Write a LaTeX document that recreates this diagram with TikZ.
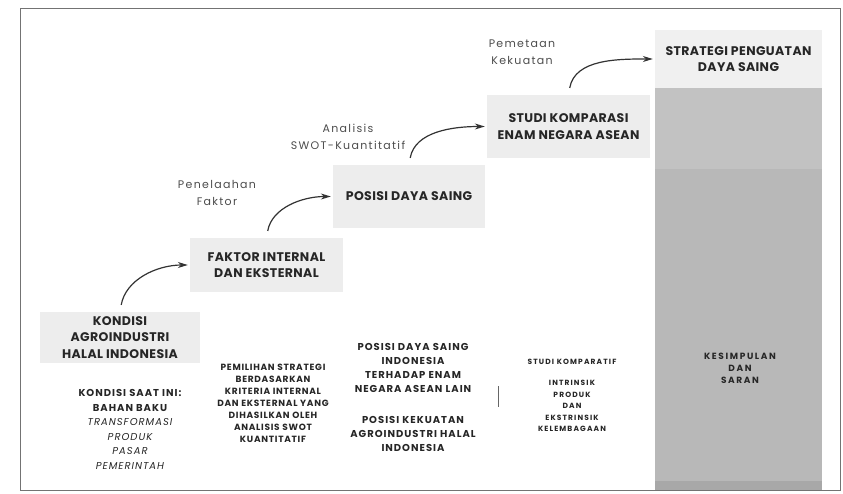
\documentclass[tikz,border=0pt]{standalone}
\usepackage{fontspec}
\setmainfont{Poppins}
\usetikzlibrary{arrows.meta,positioning}

\begin{document}
\begin{tikzpicture}[x=1pt, y=-1pt, box/.style = {fill=black!7, text=black!85, font=\bfseries\fontsize{12.5}{16.5}\selectfont\addfontfeatures{LetterSpace=3}, align=center, inner sep=0pt}, note/.style = {text=black!70, font=\fontsize{11}{17.5}\selectfont\addfontfeatures{LetterSpace=12}, align=center}, sub/.style = {text=black!85, align=center}, flow/.style = {-{Stealth[length=10pt,width=6pt]}, very thick, black!80, shorten <=7pt, shorten >=2pt}]
        \useasboundingbox (0,0) rectangle (843,494);
        \draw[black!55, thick] (20,8) rectangle (840,490);
        \fill[black!28] (655,88) rectangle (822,490);
        \fill[black!24] (655,88) rectangle (822,169);
        \fill[black!34] (655,481) rectangle (822,490);
        \node[box, minimum width=160pt, minimum height=51pt] (1) at (120,337.5) {KONDISI\\AGROINDUSTRI\\HALAL INDONESIA};
        \node[box, minimum width=153pt, minimum height=54pt] (2) at (266.5,265) {FAKTOR INTERNAL\\DAN EKSTERNAL};
        \node[box, minimum width=152pt, minimum height=63pt] (3) at (409,196.5) {POSISI DAYA SAING};
        \node[box, minimum width=163pt, minimum height=63pt] (4) at (568.5,126.5) {STUDI KOMPARASI\\ENAM NEGARA ASEAN};
        \node[box, fill=black!6, minimum width=167pt, minimum height=58pt] (5) at (738.5,59) {STRATEGI PENGUATAN\\DAYA SAING};
        \node[note] (n2) at (217,193) {Penelaahan\\Faktor};
        \node[note] (n3) at (348,137) {Analisis\\SWOT-Kuantitatif};
        \node[note] (n4) at (522,52) {Pemetaan\\Kekuatan};
        \node[sub, font=\bfseries\fontsize{10}{14.5}\selectfont\addfontfeatures{LetterSpace=10}, anchor=north] (d1) at (130,386) {KONDISI SAAT INI:\\BAHAN BAKU\\{\mdseries\itshape TRANSFORMASI}\\{\mdseries\itshape PRODUK}\\{\mdseries\itshape PASAR}\\{\mdseries\itshape PEMERINTAH}};
        \node[sub, font=\bfseries\fontsize{9}{12}\selectfont\addfontfeatures{LetterSpace=8}, anchor=north] (d2) at (273,361) {PEMILIHAN STRATEGI\\BERDASARKAN\\KRITERIA INTERNAL\\DAN EKSTERNAL YANG\\DIHASILKAN OLEH\\ANALISIS SWOT\\KUANTITATIF};
        \node[sub, font=\bfseries\fontsize{10}{14}\selectfont\addfontfeatures{LetterSpace=10}, anchor=north] (d3) at (413,340) {POSISI DAYA SAING\\INDONESIA\\TERHADAP ENAM\\NEGARA ASEAN LAIN};
        \node[sub, font=\bfseries\fontsize{10}{14}\selectfont\addfontfeatures{LetterSpace=10}, below=17pt of d3] (d3b) {POSISI KEKUATAN\\AGROINDUSTRI HALAL\\INDONESIA};
        \node[sub, font=\bfseries\fontsize{7.5}{11.5}\selectfont\addfontfeatures{LetterSpace=15}] (d4) at (572,362) {STUDI KOMPARATIF};
        \node[sub, font=\bfseries\fontsize{7.5}{11.5}\selectfont\addfontfeatures{LetterSpace=15}, anchor=north] (d4b) at (572,377) {INTRINSIK\\PRODUK\\DAN\\EKSTRINSIK\\KELEMBAGAAN};
        \node[sub, font=\bfseries\fontsize{9}{12}\selectfont\addfontfeatures{LetterSpace=18}] (d5) at (740,368) {KESIMPULAN\\DAN\\SARAN};
        \draw[black!60, line width=1pt] (498,386) -- (498,407);
        \draw[flow] (1.north) to[out=80, in=180] (2.west);
        \draw[flow] (2.north) to[out=80, in=180] (3.west);
        \draw[flow] (3.north) to[out=80, in=180] (4.west);
        \draw[flow] (4.north) to[out=80, in=180] (5.west);
    \end{tikzpicture}
\end{document}
